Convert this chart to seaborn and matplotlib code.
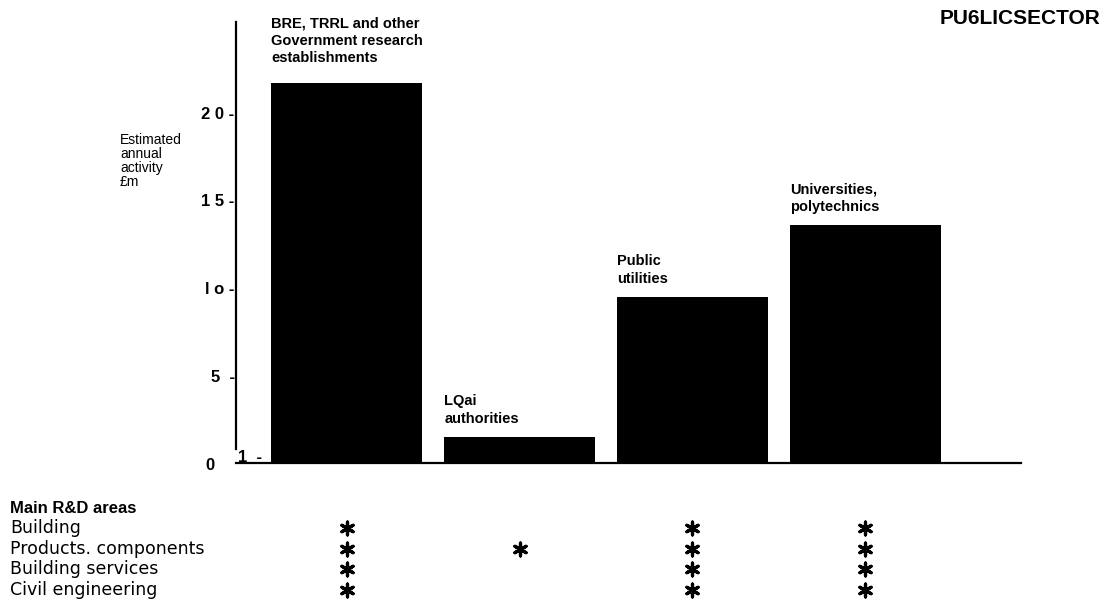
import matplotlib
matplotlib.use("Agg")
import matplotlib.pyplot as plt
import matplotlib.transforms as mtransforms
import seaborn as sns
import pandas as pd

# ---- data ----
sectors = ["BRE, TRRL and other\nGovernment research\nestablishments",
           "LQai\nauthorities",
           "Public\nutilities",
           "Universities,\npolytechnics"]
activity = [21.7, 1.5, 9.5, 13.6]
ytick_values = [5, 10, 15, 20]
ytick_labels = ["5  -", "l o -", "1 5 -", "2 0 -"]
areas = ["Building", "Products. components", "Building services", "Civil engineering"]
bre_areas = [1, 1, 1, 1]
local_areas = [0, 1, 0, 0]
public_areas = [1, 1, 1, 1]
univ_areas = [1, 1, 1, 1]
title = "PU6LICSECTOR"
ylabel = "Estimated\nannual\nactivity\n£m"
table_heading = "Main R&D areas"

sns.set_style("white")
plt.rcParams["font.family"] = ["Liberation Sans", "DejaVu Sans"]
plt.rcParams["text.color"] = "black"
plt.rcParams["ytick.color"] = "black"
plt.rcParams["axes.labelcolor"] = "black"

W, H = 1106, 605
fig = plt.figure(figsize=(W / 100, H / 100), dpi=100)

def px_axes(x0, y_top, x1, y_bot):
    return fig.add_axes([x0 / W, 1 - y_bot / H, (x1 - x0) / W, (y_bot - y_top) / H])

ax = px_axes(236, 22, 1021, 463)
df = pd.DataFrame({"sector": sectors, "activity": activity})
sns.barplot(data=df, x="sector", y="activity", color="black", saturation=1,
            width=0.87, ax=ax, linewidth=0)
ax.set_xlim(-0.64, 3.9)
ax.set_ylim(0, 25.2)
ax.set_xticks([])
ax.set_xlabel("")
ax.set_ylabel("")
ax.set_yticks(ytick_values)
ax.set_yticklabels(ytick_labels, fontsize=12, fontweight="bold")
ax.tick_params(axis="y", length=0, pad=1)
for s in ["top", "right"]:
    ax.spines[s].set_visible(False)
ax.spines["left"].set_bounds(0.8, 25.2)
ax.spines["left"].set_linewidth(1.6)
ax.spines["bottom"].set_linewidth(1.6)
ax.spines["left"].set_color("black")
ax.spines["bottom"].set_color("black")

label_offsets = [13, 8, 8, 8]  # points above bar top
for patch, label, off in zip(ax.patches, sectors, label_offsets):
    ax.annotate(label, xy=(patch.get_x(), patch.get_height()), xytext=(0, off),
                textcoords="offset points", ha="left", va="bottom",
                fontsize=10.5, fontweight="bold", linespacing=1.3)

# zero-tick texts
fig.text(210 / W, 1 - 466 / H, "0", ha="center", va="center", fontsize=12, fontweight="bold")
fig.text(238 / W, 1 - 458 / H, "1  -", ha="left", va="center", fontsize=12, fontweight="bold")

fig.text(120 / W, 1 - 133 / H, ylabel, ha="left", va="top", fontsize=10, linespacing=1.0)
fig.text(1100 / W, 1 - 18 / H, title, ha="right", va="center", fontsize=15, fontweight="bold")

# ---- table of main R&D areas ----
ax2 = px_axes(236, 518, 1021, 600)
ax2.axis("off")
rows = []
for col, flags in enumerate([bre_areas, local_areas, public_areas, univ_areas]):
    for r, f in enumerate(flags):
        if f:
            rows.append({"col": col, "row": r})
tdf = pd.DataFrame(rows)
sns.scatterplot(data=tdf, x="col", y="row", marker=(6, 2, 0), s=85,
                color="black", linewidth=2.3, ax=ax2, legend=False)
ax2.set_xlim(ax.get_xlim())
ax2.set_ylim(3.5, -0.5)

trans = mtransforms.blended_transform_factory(fig.transFigure, ax2.transData)
ax2.text(10 / W, -0.95, table_heading, transform=trans, ha="left", va="center",
         fontsize=12, fontweight="bold")
for r, name in enumerate(areas):
    ax2.text(10 / W, r, name, transform=trans, ha="left", va="center",
             fontsize=12.5, family=["DejaVu Sans"])

fig.savefig("out.png", dpi=100)
